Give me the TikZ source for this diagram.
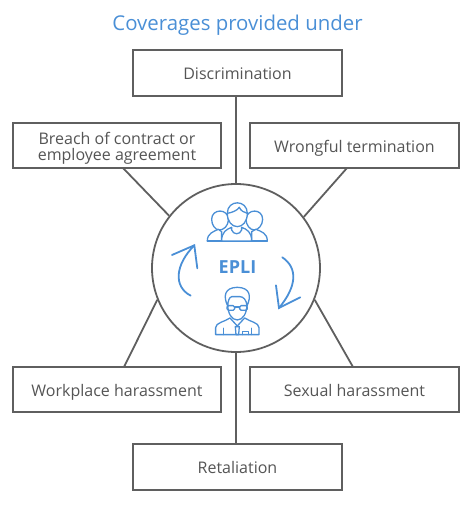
\documentclass[tikz,border=0pt]{standalone}
\usepackage{fontspec}
\setmainfont{Open Sans}
\definecolor{ln}{HTML}{5F5F5F}
\definecolor{tx}{HTML}{555555}
\definecolor{bl}{HTML}{4A8FD6}
\tikzset{
  cover/.style={draw=ln,line width=1.8pt,fill=white,minimum width=209pt,minimum height=45pt,inner sep=0pt,align=center,text=tx,font=\fontsize{16}{16}\selectfont},
  oneline/.style={text height=13.5pt,text depth=0pt},
  link/.style={draw=ln,line width=1.8pt},
  icon/.style={draw=bl,line width=1.3pt,line join=round,line cap=round},
  turn/.style={draw=bl,line width=1.8pt,line join=miter,line cap=round}
}
\begin{document}
\begin{tikzpicture}[x=1pt,y=-1pt]
\useasboundingbox (0,0) rectangle (474,509);
\node[text=bl,font=\fontsize{20.4}{24}\selectfont] (title) at (237.5,25) {Coverages provided under};
\node[cover,oneline,minimum height=46pt] (disc) at (237.5,73) {Discrimination};
\node[cover,minimum width=208pt] (breach) at (117,145.5) {\rule{0pt}{14pt}Breach of contract or\\\raisebox{0pt}[\height][0pt]{employee agreement}};
\node[cover,oneline] (wrong) at (354.5,145.5) {Wrongful termination};
\node[cover,oneline,minimum width=208pt] (work) at (117,389.5) {Workplace harassment};
\node[cover,oneline] (sex) at (354.5,389.5) {Sexual harassment};
\node[cover,oneline,minimum height=46pt] (ret) at (237.5,467) {Retaliation};
\node[circle,draw=ln,line width=1.8pt,minimum size=168pt,inner sep=0pt] (hub) at (236,268) {};
\coordinate (b1) at (123,168);
\coordinate (w1) at (347,168);
\coordinate (k1) at (124,367);
\coordinate (s1) at (353,367);
\draw[link] (disc.south -| hub.north) -- (hub.north);
\draw[link] (b1) -- (hub.142.6);
\draw[link] (w1) -- (hub.37);
\draw[link] (k1) -- (hub.202.6);
\draw[link] (s1) -- (hub.338.4);
\draw[link] (hub.south) -- (ret.north -| hub.south);
\node[text=bl,font=\fontsize{18}{20}\selectfont\bfseries] (epli) at (237.5,267) {EPLI};
\begin{scope}[x=.3333pt,y=-.3333pt,shift={(450,540)}]
\draw[turn] (66,225) -- (133,196) -- (142,265);
\draw[turn] (122,347) .. controls (70,320) and (75,255) .. (133,196);
\draw[turn] (397,232) .. controls (445,265) and (440,320) .. (387,384);
\draw[turn] (378,316) -- (387,384) -- (451,352);
% people
\draw[icon,fill=white] (185,118) .. controls (185,85) and (235,85) .. (235,118) .. controls (235,140) and (220,150) .. (208,150) .. controls (196,150) and (185,135) .. (185,118) -- cycle;
\draw[icon,fill=white] (288,118) .. controls (290,85) and (338,85) .. (338,118) .. controls (338,135) and (325,150) .. (313,150) .. controls (300,150) and (288,135) .. (288,118) -- cycle;
\draw[icon,fill=white] (172,183) .. controls (172,160) and (190,155) .. (205,148) -- (215,155) -- (215,183) -- cycle;
\draw[icon,fill=white] (352,183) .. controls (352,160) and (335,155) .. (318,148) -- (305,155) -- (305,183) -- cycle;
\draw[icon] (172,183) -- (352,183);
\draw[icon,fill=white] (215,183) .. controls (215,155) and (230,148) .. (245,142) -- (245,150) .. controls (250,165) and (270,165) .. (275,150) -- (275,142) .. controls (290,148) and (305,155) .. (305,183) -- cycle;
\draw[icon,fill=white] (232,100) .. controls (232,58) and (292,58) .. (292,100) .. controls (292,125) and (278,140) .. (262,140) .. controls (246,140) and (232,125) .. (232,100) -- cycle;
\draw[icon] (232,100) .. controls (245,98) and (262,92) .. (268,82) .. controls (272,92) and (282,98) .. (292,100);
% man
\draw[icon] (197,464) -- (197,443) .. controls (197,428) and (225,425) .. (240,414) -- (262,438) -- (284,414) .. controls (300,425) and (327,428) .. (327,443) -- (327,464) -- cycle;
\draw[icon,fill=white] (233,372) .. controls (233,400) and (245,420) .. (262,420) .. controls (279,420) and (291,400) .. (291,372);
\draw[icon] (233,378) .. controls (220,350) and (222,323) .. (262,322) .. controls (302,323) and (304,350) .. (291,378) .. controls (290,360) and (280,350) .. (270,350) -- (245,350) .. controls (238,352) and (234,362) .. (233,378);
\draw[icon,rounded corners=1.5pt] (231,377) rectangle (254,391);
\draw[icon,rounded corners=1.5pt] (269,377) rectangle (292,391);
\draw[icon] (254,381) -- (269,381);
\draw[icon] (256,440) -- (268,440) -- (266,464) -- (258,464) -- cycle;
\draw[icon] (278,464) -- (278,455) -- (296,455) -- (296,464);
\draw[icon] (221,445) -- (221,464);
\draw[icon] (304,445) -- (304,464);
\end{scope}
\end{tikzpicture}
\end{document}
